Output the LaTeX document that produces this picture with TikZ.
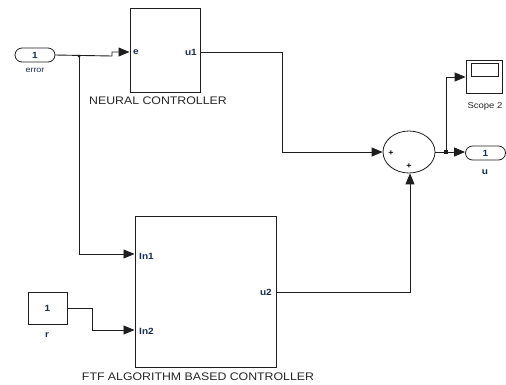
\documentclass[tikz,border=0pt]{standalone}
\usepackage{fontspec}
\setmainfont{Liberation Sans}[FakeStretch=1.12]
\usetikzlibrary{arrows.meta,shapes.geometric,calc}
\definecolor{portblue}{RGB}{25,45,85}
\definecolor{linegray}{RGB}{30,30,30}
\begin{document}
\begin{tikzpicture}[x=1pt,y=-1pt,
  blk/.style={draw=linegray,line width=1pt,fill=white,inner sep=0pt},
  oval/.style={draw=linegray,line width=0.8pt,rounded corners=7pt,minimum width=40pt,minimum height=14pt,inner sep=0pt,font=\fontsize{9}{10}\selectfont\bfseries,text=portblue},
  wire/.style={draw=linegray,line width=0.9pt},
  arr/.style={wire,-{Triangle[length=11pt,width=9pt]}},
  plab/.style={font=\fontsize{9}{10}\selectfont\bfseries,text=portblue,inner sep=0pt},
  blab/.style={font=\fontsize{11}{12}\selectfont,text=black!85,inner sep=0pt},
  dot/.style={circle,fill=linegray,inner sep=0pt,minimum size=3pt}
]
\useasboundingbox (0,0) rectangle (506,384);
% blocks
\node[oval] (errin) at (35,55) {1};
\node[plab,font=\fontsize{8}{9}\selectfont] (errlab) at (35,70) {error};
\node[blk,minimum width=70pt,minimum height=84pt] (nn) at (165,50) {};
\node[plab,anchor=west] (pe) at (133,52) {e};
\node[plab,anchor=east] (pu1) at (197,52) {u1};
\node[blab] (nnlab) at (158,101) {NEURAL CONTROLLER};

\node[blk,minimum width=141pt,minimum height=151pt] (ftf) at (205.5,291.5) {};
\node[plab,anchor=west] (pin1) at (139,256) {In1};
\node[plab,anchor=west] (pin2) at (139,331) {In2};
\node[plab,anchor=east] (pu2) at (272,292) {u2};
\node[blab] (ftflab) at (198,377) {FTF ALGORITHM BASED CONTROLLER};

\node[blk,line width=0.8pt,minimum width=39pt,minimum height=32pt,font=\fontsize{9}{10}\selectfont\bfseries,text=portblue] (cst) at (47.5,308) {1};
\node[plab] (rlab) at (47,335) {r};

\node[ellipse,draw=linegray,line width=0.8pt,minimum width=52pt,minimum height=42pt,inner sep=0pt] (sum) at (409,152) {};
\node[font=\fontsize{8}{9}\selectfont\bfseries,inner sep=0pt] (p1) at (391,153) {+};
\node[font=\fontsize{8}{9}\selectfont\bfseries,inner sep=0pt] (p2) at (409,166) {+};

\node[oval] (uout) at (485.5,153) {1};
\node[plab] (ulab) at (485,172) {u};

\node[blk,line width=0.8pt,minimum width=36pt,minimum height=33pt] (scope) at (484,76.5) {};
\node[draw=linegray,line width=0.8pt,minimum width=27pt,minimum height=13pt,inner sep=0pt] (scr) at (484.5,69.5) {};
\node[font=\fontsize{8.5}{10}\selectfont,text=black!85,inner sep=0pt] (scopelab) at (485,106) {Scope 2};

% junctions
\coordinate (j1) at (79,56);
\node[dot] (j1d) at (j1) {};
\coordinate (j2) at (446,152);
\node[rectangle,fill=linegray,inner sep=0pt,minimum size=3.5pt] (j2d) at (j2) {};

% wires
\draw[arr] (errin.east) -- (112,56) -- (112,52) -- (nn.west |- pe);
\draw[arr] (j1) -- (79,254) -- (ftf.west |- 0,254);
\draw[arr] (cst.east) -- (92,308) -- (92,330) -- (ftf.west |- 0,330);
\draw[wire] (nn.east |- pu1) -- (282,52) -- (282,152);
\draw[arr] (282,152) -- (sum.west |- 0,152);
\draw[arr] (ftf.east |- pu2) -- (410,292) -- (sum.south -| 410,0);
\draw[wire] (sum.east) -- (j2);
\draw[arr] (j2) -- (uout.west |- 0,152);
\draw[arr] (j2) -- (446,77) -- (scope.west |- 0,77);
\end{tikzpicture}
\end{document}
